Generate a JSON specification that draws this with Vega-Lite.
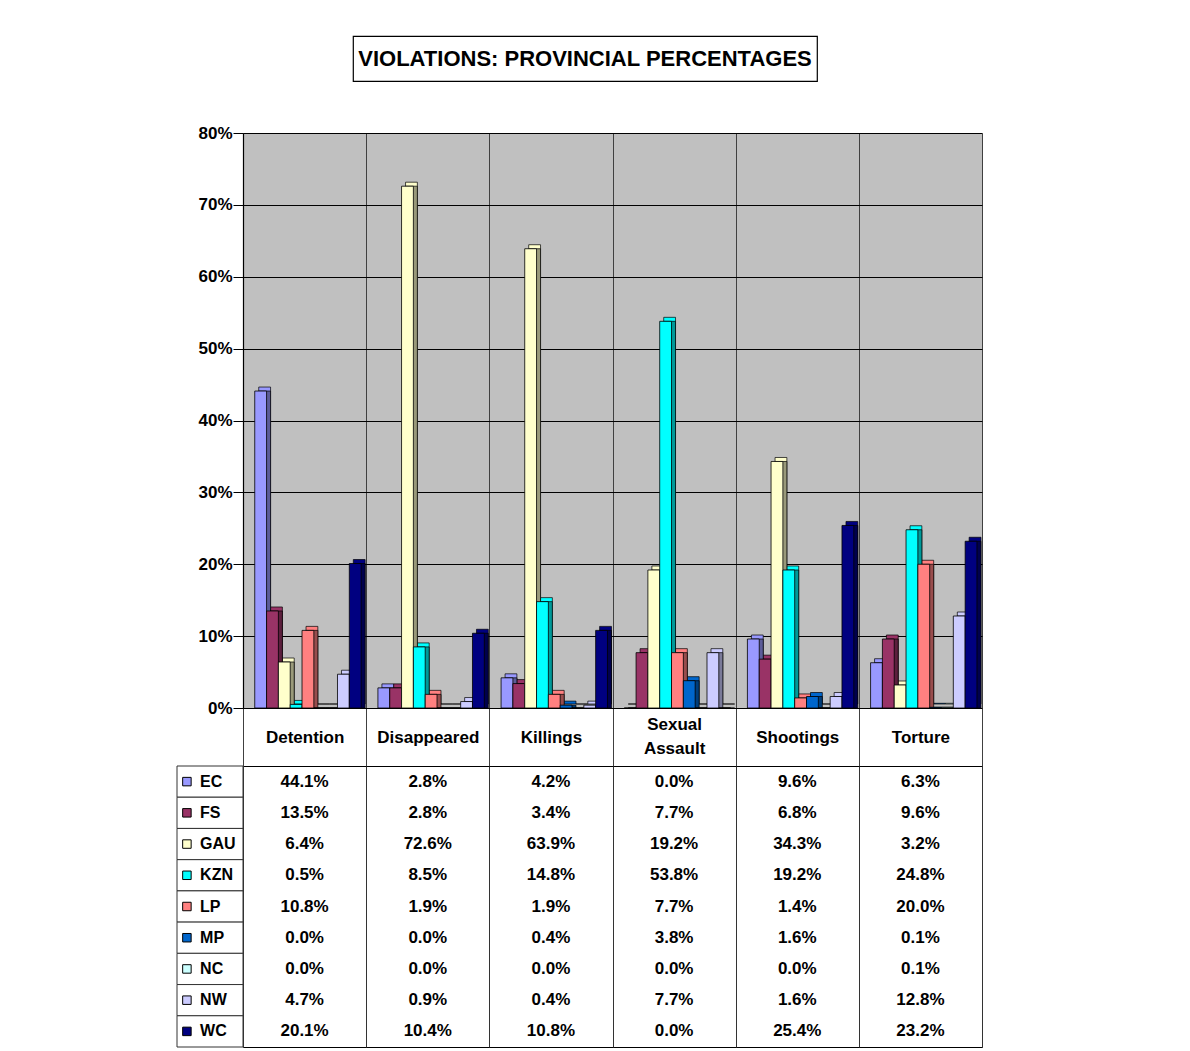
{
  "$schema": "https://vega.github.io/schema/vega-lite/v6.json",
  "background": "white",
  "padding": {"left": 176, "top": 35, "right": 5, "bottom": 0},
  "config": {"view": {"stroke": null}, "font": "Liberation Sans"},
  "datasets": {
    "d": [
      {"cat": "Detention", "prov": "EC", "v": 0.441},
      {"cat": "Disappeared", "prov": "EC", "v": 0.028},
      {"cat": "Killings", "prov": "EC", "v": 0.042},
      {"cat": "Sexual Assault", "prov": "EC", "v": 0.0},
      {"cat": "Shootings", "prov": "EC", "v": 0.096},
      {"cat": "Torture", "prov": "EC", "v": 0.063},
      {"cat": "Detention", "prov": "FS", "v": 0.135},
      {"cat": "Disappeared", "prov": "FS", "v": 0.028},
      {"cat": "Killings", "prov": "FS", "v": 0.034},
      {"cat": "Sexual Assault", "prov": "FS", "v": 0.077},
      {"cat": "Shootings", "prov": "FS", "v": 0.068},
      {"cat": "Torture", "prov": "FS", "v": 0.096},
      {"cat": "Detention", "prov": "GAU", "v": 0.064},
      {"cat": "Disappeared", "prov": "GAU", "v": 0.726},
      {"cat": "Killings", "prov": "GAU", "v": 0.639},
      {"cat": "Sexual Assault", "prov": "GAU", "v": 0.192},
      {"cat": "Shootings", "prov": "GAU", "v": 0.343},
      {"cat": "Torture", "prov": "GAU", "v": 0.032},
      {"cat": "Detention", "prov": "KZN", "v": 0.005},
      {"cat": "Disappeared", "prov": "KZN", "v": 0.085},
      {"cat": "Killings", "prov": "KZN", "v": 0.148},
      {"cat": "Sexual Assault", "prov": "KZN", "v": 0.538},
      {"cat": "Shootings", "prov": "KZN", "v": 0.192},
      {"cat": "Torture", "prov": "KZN", "v": 0.248},
      {"cat": "Detention", "prov": "LP", "v": 0.108},
      {"cat": "Disappeared", "prov": "LP", "v": 0.019},
      {"cat": "Killings", "prov": "LP", "v": 0.019},
      {"cat": "Sexual Assault", "prov": "LP", "v": 0.077},
      {"cat": "Shootings", "prov": "LP", "v": 0.014},
      {"cat": "Torture", "prov": "LP", "v": 0.200},
      {"cat": "Detention", "prov": "MP", "v": 0.0},
      {"cat": "Disappeared", "prov": "MP", "v": 0.0},
      {"cat": "Killings", "prov": "MP", "v": 0.004},
      {"cat": "Sexual Assault", "prov": "MP", "v": 0.038},
      {"cat": "Shootings", "prov": "MP", "v": 0.016},
      {"cat": "Torture", "prov": "MP", "v": 0.001},
      {"cat": "Detention", "prov": "NC", "v": 0.0},
      {"cat": "Disappeared", "prov": "NC", "v": 0.0},
      {"cat": "Killings", "prov": "NC", "v": 0.0},
      {"cat": "Sexual Assault", "prov": "NC", "v": 0.0},
      {"cat": "Shootings", "prov": "NC", "v": 0.0},
      {"cat": "Torture", "prov": "NC", "v": 0.001},
      {"cat": "Detention", "prov": "NW", "v": 0.047},
      {"cat": "Disappeared", "prov": "NW", "v": 0.009},
      {"cat": "Killings", "prov": "NW", "v": 0.004},
      {"cat": "Sexual Assault", "prov": "NW", "v": 0.077},
      {"cat": "Shootings", "prov": "NW", "v": 0.016},
      {"cat": "Torture", "prov": "NW", "v": 0.128},
      {"cat": "Detention", "prov": "WC", "v": 0.201},
      {"cat": "Disappeared", "prov": "WC", "v": 0.104},
      {"cat": "Killings", "prov": "WC", "v": 0.108},
      {"cat": "Sexual Assault", "prov": "WC", "v": 0.0},
      {"cat": "Shootings", "prov": "WC", "v": 0.254},
      {"cat": "Torture", "prov": "WC", "v": 0.232}
    ]
  },
  "vconcat": [
    {
      "hconcat": [
        {
          "width": 110,
          "height": 45,
          "data": {"values": [{"t": ""}]},
          "mark": {"type": "text"},
          "encoding": {"text": {"field": "t", "type": "nominal"}}
        },
        {
          "width": 464,
          "height": 45,
          "view": {"stroke": "black", "strokeWidth": 1.2, "fill": "white"},
          "data": {"values": [{"t": "VIOLATIONS: PROVINCIAL PERCENTAGES"}]},
          "mark": {"type": "text", "fontSize": 22, "fontWeight": "bold", "font": "Liberation Sans", "color": "black"},
          "encoding": {"text": {"field": "t", "type": "nominal"}}
        }
      ],
      "spacing": 0,
      "bounds": "flush"
    },
    {
      "vconcat": [
        {
          "width": 739,
          "height": 575,
          "data": {"name": "d"},
          "view": {"fill": "#C0C0C0", "stroke": null},
          "encoding": {
            "x": {
              "field": "cat", "type": "nominal",
              "scale": {"domain": ["Detention", "Disappeared", "Killings", "Sexual Assault", "Shootings", "Torture"], "paddingInner": 0, "paddingOuter": 0},
              "axis": {
                "orient": "bottom", "title": null, "tickBand": "extent", "tickSize": 58, "tickColor": "#404040",
                "grid": true, "gridColor": "#404040", "gridWidth": 1, "domainColor": "black", "domainWidth": 1.2,
                "labelFont": "Liberation Sans", "labelFontSize": 17, "labelFontWeight": "bold", "labelColor": "black",
                "labelAngle": 0, "labelBaseline": "middle",
                "labelPadding": {"condition": {"test": "datum.value == 'Sexual Assault'", "value": -42}, "value": -29},
                "labelLimit": 0, "labelOverlap": false, "labelLineHeight": 24,
                "labelExpr": "datum.value == 'Sexual Assault' ? ['Sexual', 'Assault'] : datum.value"
              }
            },
            "y": {
              "field": "v", "type": "quantitative",
              "scale": {"domain": [0, 0.8], "nice": false},
              "axis": {
                "values": [0, 0.1, 0.2, 0.3, 0.4, 0.5, 0.6, 0.7, 0.8], "format": ".0%", "title": null,
                "labelFont": "Liberation Sans", "labelFontSize": 17, "labelFontWeight": "bold", "labelColor": "black",
                "labelPadding": 1, "tickSize": 10, "tickColor": "black", "domainColor": "black", "domainWidth": 1.2,
                "grid": true, "gridColor": "black", "gridWidth": 1
              }
            }
          },
          "layer": [
            {
              "mark": {"type": "bar", "yOffset": -4, "stroke": "black", "strokeWidth": 0.7},
              "encoding": {
                "xOffset": {
                  "field": "prov", "type": "nominal",
                  "scale": {"domain": ["EC", "FS", "GAU", "KZN", "LP", "MP", "NC", "NW", "WC"], "paddingInner": 0, "paddingOuter": 0.71, "align": 0.938}
                },
                "color": {
                  "field": "prov", "type": "nominal", "legend": null,
                  "scale": {"domain": ["EC", "FS", "GAU", "KZN", "LP", "MP", "NC", "NW", "WC"], "range": ["#9999FF", "#993366", "#FFFFCC", "#00FFFF", "#FF8080", "#0066CC", "#CCFFFF", "#CCCCFF", "#000080"]}
                }
              }
            },
            {
              "mark": {"type": "bar", "stroke": "black", "strokeWidth": 0.7},
              "encoding": {
                "xOffset": {
                  "field": "prov", "type": "nominal",
                  "scale": {"domain": ["EC", "FS", "GAU", "KZN", "LP", "MP", "NC", "NW", "WC"], "paddingInner": 0, "paddingOuter": 0.71, "align": 0.938}
                },
                "color": {
                  "field": "prov", "type": "nominal", "legend": null,
                  "scale": {"domain": ["EC", "FS", "GAU", "KZN", "LP", "MP", "NC", "NW", "WC"], "range": ["#5C5C99", "#5C1F3D", "#99997A", "#009999", "#994D4D", "#003D7A", "#7A9999", "#7A7A99", "#00004D"]}
                }
              }
            },
            {
              "mark": {"type": "bar", "stroke": "black", "strokeWidth": 0.8},
              "encoding": {
                "xOffset": {
                  "field": "prov", "type": "nominal",
                  "scale": {"domain": ["EC", "FS", "GAU", "KZN", "LP", "MP", "NC", "NW", "WC"], "paddingInner": 0, "paddingOuter": 0.71, "align": 0.7}
                },
                "color": {
                  "field": "prov", "type": "nominal", "legend": null,
                  "scale": {"domain": ["EC", "FS", "GAU", "KZN", "LP", "MP", "NC", "NW", "WC"], "range": ["#9999FF", "#993366", "#FFFFCC", "#00FFFF", "#FF8080", "#0066CC", "#CCFFFF", "#CCCCFF", "#000080"]}
                }
              }
            }
          ],
          "resolve": {"scale": {"color": "independent", "xOffset": "independent"}}
        },
        {
          "width": 739,
          "height": 281,
          "data": {"name": "d"},
          "view": {"stroke": "black", "strokeWidth": 1},
          "layer": [
            {
              "mark": {"type": "text", "font": "Liberation Sans", "fontSize": 17, "fontWeight": "bold", "color": "black"},
              "encoding": {
                "x": {
                  "field": "cat", "type": "nominal",
                  "scale": {"type": "band", "domain": ["Detention", "Disappeared", "Killings", "Sexual Assault", "Shootings", "Torture"], "paddingInner": 0, "paddingOuter": 0},
                  "axis": {"orient": "top", "labels": false, "ticks": false, "domain": false, "grid": true, "tickBand": "extent", "gridColor": "#333333", "title": null}
                },
                "y": {
                  "field": "prov", "type": "nominal",
                  "scale": {"type": "band", "domain": ["EC", "FS", "GAU", "KZN", "LP", "MP", "NC", "NW", "WC"], "paddingInner": 0, "paddingOuter": 0},
                  "axis": {"labels": false, "ticks": false, "domain": false, "grid": true, "tickBand": "extent", "gridColor": "#333333", "title": null}
                },
                "text": {"field": "v", "type": "quantitative", "format": ".1%"}
              }
            },
            {
              "transform": [{"filter": "datum.cat == 'Detention'"}],
              "encoding": {
                "y": {
                  "field": "prov", "type": "nominal",
                  "scale": {"type": "band", "domain": ["EC", "FS", "GAU", "KZN", "LP", "MP", "NC", "NW", "WC"], "paddingInner": 0, "paddingOuter": 0},
                  "axis": null
                }
              },
              "layer": [
                {
                  "mark": {"type": "bar", "fill": "white", "stroke": "#333333", "strokeWidth": 1},
                  "encoding": {
                    "x": {"datum": "L", "type": "nominal", "scale": {"type": "band", "domain": ["L"], "range": [-66, 0], "paddingInner": 0, "paddingOuter": 0}, "axis": null}
                  }
                },
                {
                  "mark": {"type": "point", "shape": "square", "filled": true, "size": 72, "stroke": "black", "strokeWidth": 1, "opacity": 1},
                  "encoding": {
                    "x": {"datum": "L", "type": "nominal", "bandPosition": 0.15, "scale": {"type": "band", "domain": ["L"], "range": [-66, 0], "paddingInner": 0, "paddingOuter": 0}, "axis": null},
                    "color": {
                      "field": "prov", "type": "nominal", "legend": null,
                      "scale": {"domain": ["EC", "FS", "GAU", "KZN", "LP", "MP", "NC", "NW", "WC"], "range": ["#9999FF", "#993366", "#FFFFCC", "#00FFFF", "#FF8080", "#0066CC", "#CCFFFF", "#CCCCFF", "#000080"]}
                    }
                  }
                },
                {
                  "mark": {"type": "text", "align": "left", "font": "Liberation Sans", "fontSize": 16, "fontWeight": "bold", "color": "black"},
                  "encoding": {
                    "x": {"datum": "L", "type": "nominal", "bandPosition": 0.35, "scale": {"type": "band", "domain": ["L"], "range": [-66, 0], "paddingInner": 0, "paddingOuter": 0}, "axis": null},
                    "text": {"field": "prov", "type": "nominal"}
                  }
                }
              ]
            }
          ],
          "resolve": {"scale": {"x": "independent"}, "axis": {"x": "independent"}}
        }
      ],
      "spacing": 58,
      "bounds": "flush",
      "resolve": {"scale": {"x": "independent", "y": "independent", "color": "independent"}}
    }
  ],
  "spacing": 97,
  "bounds": "flush",
  "resolve": {"scale": {"color": "independent"}}
}
